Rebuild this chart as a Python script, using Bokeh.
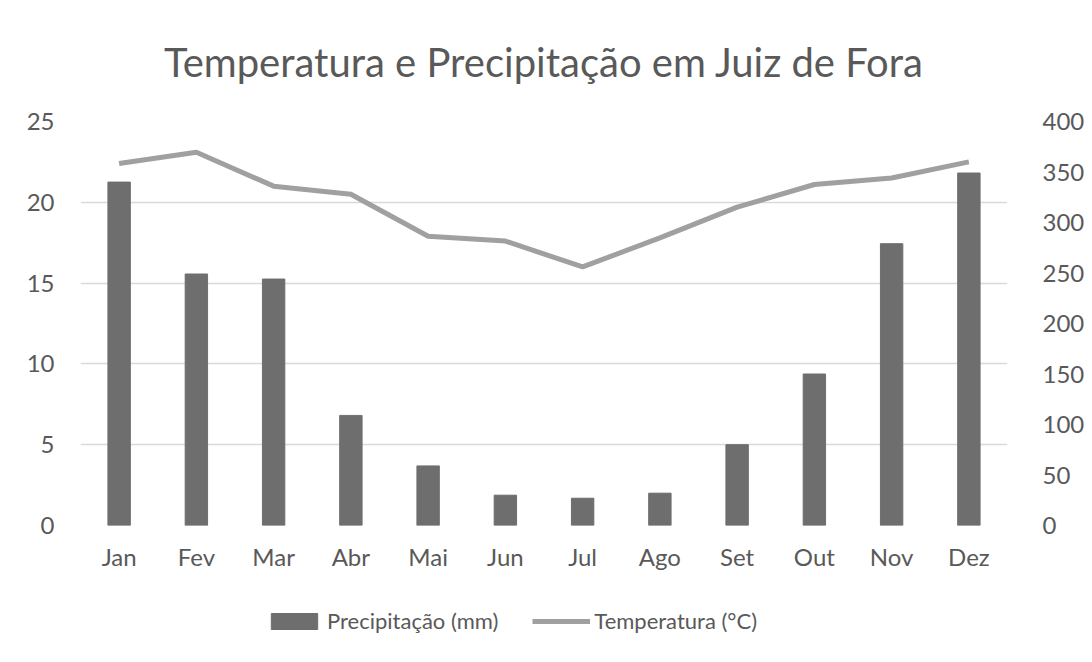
from bokeh.plotting import figure
from bokeh.layouts import column
from bokeh.models import Range1d, LinearAxis, Legend, LegendItem, FactorRange, FixedTicker, ColumnDataSource
from bokeh.embed import file_html
from bokeh.resources import INLINE

meses = ["Jan", "Fev", "Mar", "Abr", "Mai", "Jun", "Jul", "Ago", "Set", "Out", "Nov", "Dez"]
precipitacao = [340, 249, 244, 109, 59, 30, 27, 32, 80, 150, 279, 349]
temperatura = [22.4, 23.1, 21.0, 20.5, 17.9, 17.6, 16.0, 17.8, 19.7, 21.1, 21.5, 22.5]
left_ticks = [0, 5, 10, 15, 20, 25]
right_ticks = [0, 50, 100, 150, 200, 250, 300, 350, 400]

FONT = "Lato"
TXT = "#595959"
BAR_C = "#6e6e6e"
LINE_C = "#a0a0a0"

src = ColumnDataSource(dict(m=meses, p=precipitacao, t=temperatura))

p = figure(width=1088, height=590, x_range=FactorRange(*meses, range_padding=0),
           y_range=Range1d(0, 25), output_backend="svg", toolbar_location=None,
           min_border_left=80, min_border_right=81, min_border_top=121, min_border_bottom=65,
           title="Temperatura e Precipitação em Juiz de Fora")
p.outline_line_color = None
p.background_fill_color = "white"
p.border_fill_color = "white"

p.title.align = "center"
p.title.text_font = FONT
p.title.text_font_style = "normal"
p.title.text_font_size = "40px"
p.title.text_color = TXT
p.title.standoff = 71

p.extra_y_ranges = {"prec": Range1d(0, 400)}

bars = p.vbar(x="m", top="p", width=0.29, source=src, y_range_name="prec",
              fill_color=BAR_C, line_color=BAR_C)
line = p.line(x="m", y="t", source=src, line_color=LINE_C, line_width=5)

p.yaxis.ticker = FixedTicker(ticks=left_ticks)
p.xgrid.grid_line_color = None
p.ygrid.grid_line_color = "#d9d9d9"
p.ygrid.grid_line_width = 1.5
p.ygrid.ticker = FixedTicker(ticks=left_ticks)

ax_r = LinearAxis(y_range_name="prec", ticker=FixedTicker(ticks=right_ticks))
p.add_layout(ax_r, "right")

for ax in p.axis:
    ax.axis_line_color = None
    ax.major_tick_line_color = None
    ax.minor_tick_line_color = None
    ax.major_label_text_font = FONT
    ax.major_label_text_font_size = "24px"
    ax.major_label_text_color = TXT

p.yaxis[0].major_label_standoff = 20
ax_r.major_label_standoff = 29
p.xaxis.major_label_standoff = 10

# legend strip: same series drawn out of view, only the legend is visible
lg = figure(width=1088, height=68, x_range=FactorRange(*meses, range_padding=0),
            y_range=Range1d(1000, 1001), x_axis_location=None, y_axis_location=None,
            output_backend="svg", toolbar_location=None, min_border=0)
lg.grid.visible = False
lg.outline_line_color = None
lb = lg.vbar(x="m", top="p", width=0.29, source=src, fill_color=BAR_C, line_color=BAR_C)
ll = lg.line(x="m", y="t", source=src, line_color=LINE_C, line_width=5)

legend = Legend(items=[LegendItem(label="Precipitação (mm)", renderers=[lb]),
                       LegendItem(label="Temperatura (°C)", renderers=[ll])],
                orientation="horizontal", location=(185, 24),
                label_text_font=FONT, label_text_font_size="22px", label_text_color=TXT,
                glyph_width=58, glyph_height=20, spacing=34, label_standoff=4,
                border_line_color=None, background_fill_alpha=0, margin=0, padding=4)
lg.add_layout(legend, "center")

layout = column(p, lg, spacing=0)
open("out.html", "w").write(file_html(layout, INLINE))
